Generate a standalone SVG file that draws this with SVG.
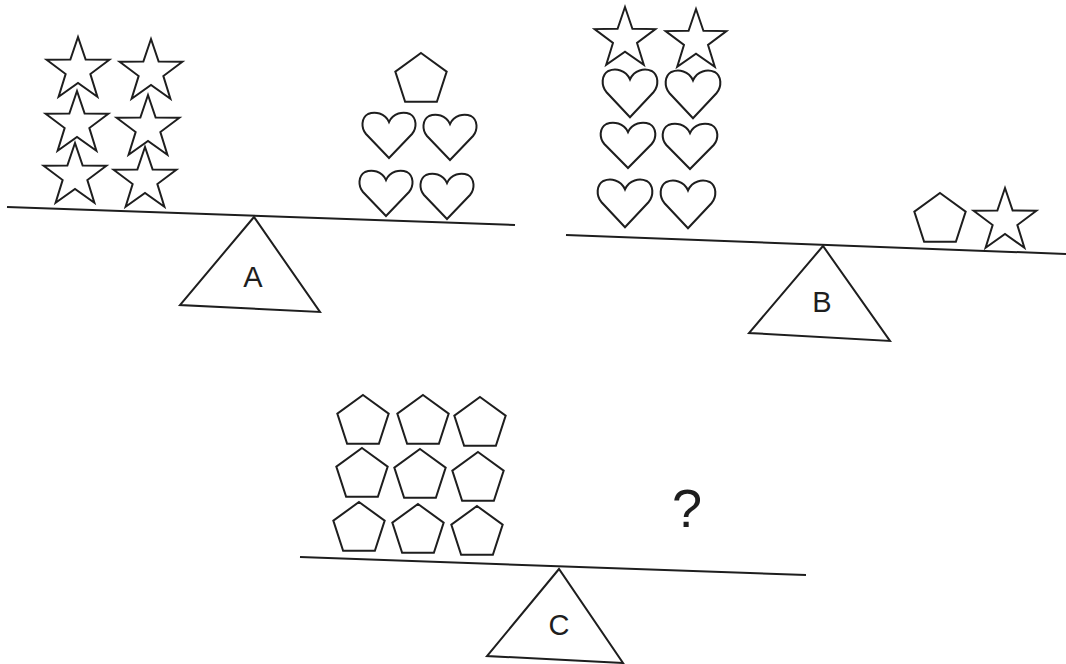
<svg xmlns="http://www.w3.org/2000/svg" xmlns:xlink="http://www.w3.org/1999/xlink" width="1066" height="664" viewBox="0 0 1066 664">
<style>
.s{fill:none;stroke:#1e1e1e;stroke-width:2;stroke-linejoin:miter}
.beam{fill:none;stroke:#1e1e1e;stroke-width:2}
.lbl{font-family:"Liberation Sans",Arial,sans-serif;font-size:29px;fill:#1e1e1e;text-anchor:middle}
.q{font-family:"Liberation Sans",Arial,sans-serif;font-size:54px;fill:#1e1e1e;text-anchor:middle}
</style>
<defs>
<polygon id="star" class="s" points="0,-33 7.64,-10.52 31.38,-10.2 12.36,4.02 19.4,26.7 0,13 -19.4,26.7 -12.36,4.02 -31.38,-10.2 -7.64,-10.52"/>
<polygon id="pent" class="s" points="0,-27 25.68,-8.34 15.87,21.84 -15.87,21.84 -25.68,-8.34"/>
<path id="heart" class="s" d="M0,-13 C-4,-22 -14,-24 -21,-21 C-28,-17 -28,-7 -23,-1 L0,23 L23,-1 C28,-7 28,-17 21,-21 C14,-24 4,-22 0,-13 Z"/>
</defs>
<rect width="1066" height="664" fill="#ffffff"/>

<g id="scaleA">
<line class="beam" x1="7" y1="207" x2="515" y2="225"/>
<polygon class="s" points="254,217 180,305 320,312"/>
<text class="lbl" x="253" y="287">A</text>
<g id="A-stars">
<use href="#star" transform="translate(78,70)"/>
<use href="#star" transform="translate(151,72)"/>
<use href="#star" transform="translate(77,124)"/>
<use href="#star" transform="translate(148,128)"/>
<use href="#star" transform="translate(75,176)"/>
<use href="#star" transform="translate(145,180)"/>
</g>
<g id="A-right">
<use href="#pent" transform="translate(421,80)"/>
<use href="#heart" transform="translate(389,135)"/>
<use href="#heart" transform="translate(450,137)"/>
<use href="#heart" transform="translate(386,193)"/>
<use href="#heart" transform="translate(447,196)"/>
</g>
</g>

<g id="scaleB">
<line class="beam" x1="566" y1="235" x2="1066" y2="254"/>
<polygon class="s" points="823,246 749,333 890,341"/>
<text class="lbl" x="822" y="312">B</text>
<g id="B-left">
<use href="#star" transform="translate(625,39) scale(0.97)"/>
<use href="#star" transform="translate(696,41) scale(0.97)"/>
<use href="#heart" transform="translate(630,93) scale(1.03,1.05)"/>
<use href="#heart" transform="translate(693,94) scale(1.03,1.05)"/>
<use href="#heart" transform="translate(628,145) scale(1.03,1.0)"/>
<use href="#heart" transform="translate(690,146) scale(1.03,1.0)"/>
<use href="#heart" transform="translate(625,203) scale(1.03,1.05)"/>
<use href="#heart" transform="translate(688,204) scale(1.03,1.05)"/>
</g>
<g id="B-right">
<use href="#pent" transform="translate(940,220)"/>
<use href="#star" transform="translate(1005,221)"/>
</g>
</g>

<g id="scaleC">
<line class="beam" x1="300" y1="557" x2="806" y2="575"/>
<polygon class="s" points="559,569 487,656 623,663"/>
<text class="lbl" x="559" y="635">C</text>
<g id="C-pents">
<use href="#pent" transform="translate(363,422)"/>
<use href="#pent" transform="translate(423,422)"/>
<use href="#pent" transform="translate(480,424)"/>
<use href="#pent" transform="translate(362,475)"/>
<use href="#pent" transform="translate(420,476)"/>
<use href="#pent" transform="translate(478,479)"/>
<use href="#pent" transform="translate(359,529)"/>
<use href="#pent" transform="translate(418,531)"/>
<use href="#pent" transform="translate(477,533)"/>
</g>
<text class="q" x="687" y="527">?</text>
</g>
</svg>
